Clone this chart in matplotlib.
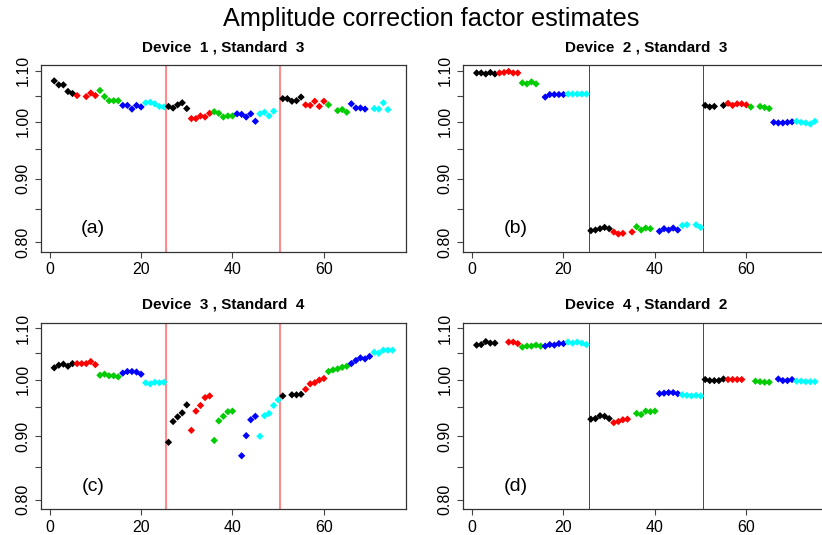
import numpy as np
import matplotlib
matplotlib.use("Agg")
import matplotlib.pyplot as plt

nan = np.nan

# estimates for x = 1..75 (nan = missing point)
device_1 = [1.079, 1.071, 1.071, 1.058, 1.054, 1.050, nan, 1.048, 1.055, 1.050,
            1.060, 1.048, 1.040, 1.040, 1.040, 1.031, 1.031, 1.024, 1.031, 1.028,
            1.036, 1.037, 1.034, 1.029, 1.028, 1.029, 1.026, 1.032, 1.036, 1.025,
            1.006, 1.006, 1.011, 1.009, 1.016, 1.019, 1.016, 1.009, 1.011, 1.011,
            1.015, 1.014, 1.009, 1.015, 1.001, 1.015, 1.018, 1.011, 1.020, nan,
            1.044, 1.044, 1.039, 1.040, 1.047, 1.032, 1.031, 1.039, 1.029, 1.039,
            1.032, nan, 1.021, 1.023, 1.018, 1.034, 1.026, 1.026, 1.024, nan,
            1.025, 1.024, 1.036, 1.023, nan]
device_2 = [1.095, 1.095, 1.093, 1.096, 1.093, 1.095, 1.096, 1.098, 1.095, 1.095,
            1.075, 1.073, 1.077, 1.073, nan, 1.047, 1.052, 1.052, 1.052, 1.052,
            1.053, 1.053, 1.053, 1.053, 1.053, 0.817, 0.818, 0.820, 0.822, 0.820,
            0.815, 0.812, 0.813, nan, 0.815, 0.823, 0.818, 0.821, 0.820, nan,
            0.816, 0.820, 0.818, 0.821, 0.818, 0.825, 0.826, nan, 0.826, 0.822,
            1.031, 1.028, 1.029, nan, 1.031, 1.035, 1.031, 1.034, 1.034, 1.032,
            1.028, nan, 1.029, 1.027, 1.025, 0.999, 0.998, 0.998, 0.999, 1.000,
            1.001, 0.999, 0.998, 0.996, 1.001]
device_3 = [1.022, 1.027, 1.029, 1.025, 1.030, 1.030, 1.030, 1.030, 1.034, 1.028,
            1.008, 1.010, 1.007, 1.007, 1.005, 1.012, 1.015, 1.015, 1.014, 1.010,
            0.994, 0.992, 0.995, 0.994, 0.995, 0.890, 0.925, 0.933, 0.940, 0.954,
            0.910, 0.943, 0.953, 0.967, 0.970, 0.893, 0.926, 0.934, 0.942, 0.943,
            nan, 0.868, 0.901, 0.928, 0.934, 0.900, 0.935, 0.939, 0.953, 0.963,
            0.970, nan, 0.972, 0.972, 0.973, 0.982, 0.992, 0.994, 0.999, 1.002,
            1.015, 1.018, 1.020, 1.023, 1.025, 1.030, 1.036, 1.041, 1.039, 1.044,
            1.052, 1.050, 1.056, 1.056, 1.056]
device_4 = [1.066, 1.067, 1.073, 1.070, 1.070, nan, nan, 1.072, 1.072, 1.069,
            1.062, 1.064, 1.064, 1.066, 1.064, 1.064, 1.067, 1.066, 1.069, 1.069,
            1.072, 1.070, 1.072, 1.070, 1.067, 0.929, 0.930, 0.935, 0.934, 0.930,
            0.923, 0.925, 0.928, 0.929, nan, 0.939, 0.937, 0.943, 0.942, 0.943,
            0.974, 0.975, 0.976, 0.976, 0.974, 0.972, 0.971, 0.970, 0.971, 0.970,
            1.000, 0.998, 0.998, 0.998, 1.001, 1.000, 1.000, 1.000, 1.000, nan,
            nan, 0.997, 0.996, 0.995, 0.995, nan, 1.001, 0.998, 0.998, 1.000,
            0.997, 0.997, 0.996, 0.996, 0.996]

titles = ["Device  1 , Standard  3", "Device  2 , Standard  3",
          "Device  3 , Standard  4", "Device  4 , Standard  2"]
labels = ["(a)", "(b)", "(c)", "(d)"]
breaks = [25.5, 50.5]
yticks = [0.80, 0.85, 0.90, 0.95, 1.00, 1.05, 1.10]
ylabels = ["0.80", "", "0.90", "", "1.00", "", "1.10"]

palette = ["black", "#ff0000", "#00cd00", "#0000ff", "#00ffff"]   # R default colours

plt.rcParams["font.family"] = ["Liberation Sans", "DejaVu Sans"]

fig = plt.figure(figsize=(8.22, 5.35), dpi=100)
fig.text(431 / 822, 1 - 19 / 535, "Amplitude correction factor estimates",
         ha="center", va="center", fontsize=18.2)

# axes boxes in pixels: left, top
boxes = [(40.7, 65), (463.1, 65), (40.7, 322.7), (463.1, 322.7)]
bw, bh = 365.3, 186.7
data = [device_1, device_2, device_3, device_4]

x = np.arange(1, 76)
cols = [palette[((i - 1) // 5) % 5] for i in x]

for k in range(4):
    l, t = boxes[k]
    ax = fig.add_axes([l / 822, 1 - (t + bh) / 535, bw / 822, bh / 535])
    y = np.array(data[k])
    ax.scatter(x, y, c=cols, marker="D", s=14, linewidths=0, zorder=3)
    for b in breaks:
        if k in (0, 2):
            ax.axvline(b, color="#ff0000", alpha=0.45, lw=1.5, zorder=2)
        else:
            ax.axvline(b, color="#ff0000", lw=0.72, antialiased=False, zorder=2)
    ax.set_yscale("log")
    ax.set_xlim(-1.96, 77.96)
    ax.set_ylim(0.7857, 1.1113)
    ax.set_yticks(yticks)
    ax.set_yticklabels(ylabels, rotation=90, va="center")
    ax.minorticks_off()
    ax.set_xticks([0, 20, 40, 60])
    ax.tick_params(labelsize=11.5, length=4.5, width=0.8, color="#444444", pad=3)
    for s in ax.spines.values():
        s.set_color("#333333")
        s.set_linewidth(0.9)
    ax.text(0.5, 1 + 18 / bh, titles[k], transform=ax.transAxes,
            ha="center", va="center", fontsize=11, fontweight="bold")
    ax.text(9.5, 0.82, labels[k], ha="center", va="center", fontsize=14)

fig.savefig("out.png", dpi=100)
